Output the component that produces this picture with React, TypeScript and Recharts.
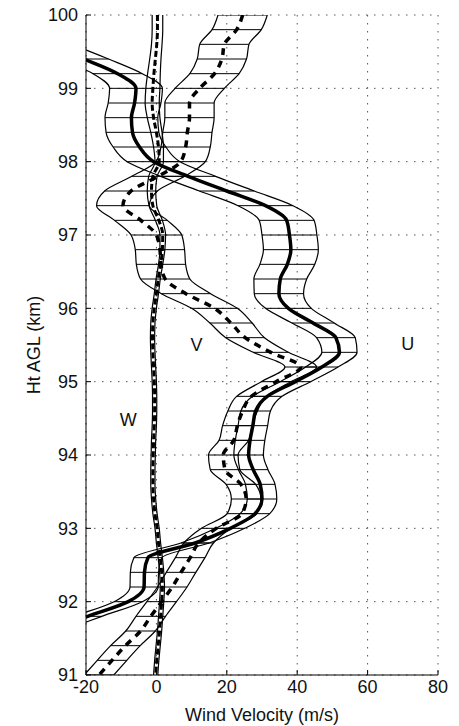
import { CartesianGrid, Label, ReferenceDot, ReferenceLine, Scatter, ScatterChart, XAxis, YAxis } from 'recharts'

// heights (km), top to bottom, every 0.2 km
const heights = [
  100.0, 99.8, 99.6, 99.4, 99.2, 99.0, 98.8, 98.6, 98.4, 98.2, 98.0, 97.8, 97.6, 97.4, 97.2, 97.0,
  96.8, 96.6, 96.4, 96.2, 96.0, 95.8, 95.6, 95.4, 95.2, 95.0, 94.8, 94.6, 94.4, 94.2, 94.0, 93.8,
  93.6, 93.4, 93.2, 93.0, 92.8, 92.6, 92.4, 92.2, 92.0, 91.8, 91.6, 91.4, 91.2, 91.0,
]

const uMean = [
  -51, -41, -31, -20.6, -11, -5.8, -6.2, -7.1, -6.8, -4.8, -0.8, 9, 20, 31, 37, 37.8,
  38.2, 37.2, 35.2, 34.8, 37.5, 44.5, 51, 52, 47, 39.5, 31.5, 28.2, 27.4, 26.6, 26.2, 27.5,
  29.5, 30, 28, 21, 11, -2.4, -3.4, -3.5, -8, -19.5, -31, -43, -55, -67,
]
const uErr = [
  7, 7, 7, 7, 7, 7.5, 7.5, 7.5, 7.5, 7.5, 7.5, 7.8, 7.8, 7.8, 7.8, 7.8,
  7.8, 7.8, 7.5, 7, 6.5, 6, 5.5, 5, 4.6, 4.3, 4.2, 4.2, 4.2, 4.2, 4.2, 4.2,
  4.2, 4.2, 4.2, 4.1, 4, 4, 4, 4, 4, 4, 4, 4, 4, 4,
]

const vMean = [
  24.5, 22.8, 19.3, 18.6, 16.5, 12.3, 9.4, 9.4, 8.8, 8.3, 6.9, 0.5, -7.2, -9.5, -4.4, 0,
  1, 1.3, 2.5, 8.4, 16.5, 21.2, 25.2, 32.5, 41, 34, 27, 24.5, 23, 22, 19, 19.5,
  24, 25.5, 24.3, 17, 12, 9.6, 7, 4.5, 1.5, -1.6, -4.5, -8.8, -12.6, -16.3,
]
const vErr = [
  7, 7, 7, 7, 7, 7, 7, 7, 7, 7, 7, 7.5, 7.5, 7.5, 7.5, 7.2,
  7, 7, 7, 7, 6.5, 6, 5.5, 5, 4.5, 4.2, 4.2, 4.2, 4.2, 4.2, 4.2, 4.2,
  4.2, 4.2, 4.2, 4.2, 4.2, 4.2, 4.2, 4.2, 4.2, 4.2, 4.2, 4.2, 4.2, 4.2,
]

const wMean = [
  0.3, 0.3, 0.1, -0.3, -0.7, -1.0, -1.2, -0.8, 0, 0.6, 0.8, -1.0, -1.4, -1.0, 0.7, 1.8,
  1.7, 1.2, 0.5, 0, -0.6, -1.0, -1.1, -1.0, -0.8, -0.6, -0.5, -0.5, -0.6, -0.8, -0.9, -1.0,
  -1.0, -0.8, -0.4, 0.2, 0.6, 1.1, 1.5, 1.7, 1.5, 1.2, 0.9, 0.5, 0.1, -0.2,
]
const wErr = [
  1.5, 1.5, 1.5, 1.6, 1.8, 2.0, 2.0, 1.8, 1.6, 1.4, 1.2, 1.2, 1.2, 1.1, 1.0, 0.8,
  0.7, 0.6, 0.6, 0.6, 0.6, 0.6, 0.6, 0.6, 0.6, 0.6, 0.6, 0.6, 0.6, 0.6, 0.6, 0.6,
  0.6, 0.6, 0.6, 0.6, 0.6, 0.6, 0.6, 0.6, 0.6, 0.6, 0.6, 0.6, 0.6, 0.6,
]

const xTicks = [-20, 0, 20, 40, 60, 80]
const yTicks = [91, 92, 93, 94, 95, 96, 97, 98, 99, 100]

const profileNames = ['W', 'V', 'U']
const nameX = [-8, 11.4, 71.4]
const nameY = [94.48, 95.5, 95.52]

const FONT = '"Liberation Sans", Arial, Helvetica, sans-serif'
const INK = '#111'

// one edge (side -1 / +1) or the centre (side 0) of a profile
function edge(mean: number[], err: number[], side: number) {
  return heights.map((h, i) => ({ x: mean[i] + side * err[i], y: h }))
}

const noDot = () => <g />

const tickStyle = { fontSize: 18, fill: INK, fontFamily: FONT }

export default function App() {
  const bands = [
    { mean: uMean, err: uErr },
    { mean: vMean, err: vErr },
  ]
  const thinEdges = [
    ...bands.flatMap((b) => [edge(b.mean, b.err, -1), edge(b.mean, b.err, 1)]),
    edge(wMean, wErr, -1),
    edge(wMean, wErr, 1),
  ]
  return (
    <div style={{ position: 'fixed', left: 0, top: 0, fontFamily: FONT, background: '#fff' }}>
      <ScatterChart width={459} height={726} margin={{ top: 15, right: 21, bottom: 11, left: 0 }}>
        <CartesianGrid stroke="#555" strokeDasharray="1.5 6.5" />
        <XAxis
          type="number"
          dataKey="x"
          domain={[-20, 80]}
          ticks={xTicks}
          interval={0}
          allowDataOverflow
          height={40}
          tickSize={-5}
          tickMargin={10}
          stroke="#000"
          tick={tickStyle}
        >
          <Label
            content={({ viewBox }: any) => (
              <text x={viewBox.x + viewBox.width / 2} y={720.5} textAnchor="middle" fontSize={18} fill={INK} fontFamily={FONT}>
                Wind Velocity (m/s)
              </text>
            )}
          />
        </XAxis>
        <XAxis
          xAxisId="top"
          orientation="top"
          type="number"
          dataKey="x"
          domain={[-20, 80]}
          ticks={xTicks}
          interval={0}
          allowDataOverflow
          height={0}
          tickSize={-5}
          stroke="#000"
          tick={noDot}
        />
        <YAxis
          type="number"
          dataKey="y"
          domain={[91, 100]}
          ticks={yTicks}
          interval={0}
          allowDataOverflow
          width={86}
          tickSize={-5}
          tickMargin={13}
          stroke="#000"
          tick={tickStyle}
        >
          <Label
            content={({ viewBox }: any) => {
              const cy = viewBox.y + viewBox.height / 2
              return (
                <text x={40} y={cy} transform={`rotate(-90, 40, ${cy})`} textAnchor="middle" fontSize={18} fill={INK} fontFamily={FONT}>
                  Ht AGL (km)
                </text>
              )
            }}
          />
        </YAxis>
        <YAxis
          yAxisId="right"
          orientation="right"
          type="number"
          dataKey="y"
          domain={[91, 100]}
          ticks={yTicks}
          interval={0}
          allowDataOverflow
          width={0}
          tickSize={-5}
          stroke="#000"
          tick={noDot}
        />

        {/* horizontal hatching of the U and V error bands */}
        {bands.map((b, k) =>
          heights.map((h, i) => (
            <ReferenceLine
              key={`hatch-${k}-${i}`}
              segment={[
                { x: b.mean[i] - b.err[i], y: h },
                { x: b.mean[i] + b.err[i], y: h },
              ]}
              stroke="#000"
              strokeWidth={1}
              ifOverflow="hidden"
            />
          )),
        )}

        {thinEdges.map((pts, k) => (
          <Scatter
            key={`edge-${k}`}
            data={pts}
            line={{ stroke: '#000', strokeWidth: 1.2 }}
            lineJointType="monotoneY"
            shape={noDot}
            fill="none"
            isAnimationActive={false}
          />
        ))}

        <Scatter
          data={edge(uMean, uErr, 0)}
          line={{ stroke: '#000', strokeWidth: 3.5 }}
          lineJointType="monotoneY"
          shape={noDot}
          fill="none"
          isAnimationActive={false}
        />
        <Scatter
          data={edge(vMean, vErr, 0)}
          line={{ stroke: '#000', strokeWidth: 3.5, strokeDasharray: '7 6' }}
          lineJointType="monotoneY"
          shape={noDot}
          fill="none"
          isAnimationActive={false}
        />
        <Scatter
          data={edge(wMean, wErr, 0)}
          line={{ stroke: '#000', strokeWidth: 3, strokeDasharray: '6 3' }}
          lineJointType="monotoneY"
          shape={noDot}
          fill="none"
          isAnimationActive={false}
        />

        {profileNames.map((name, i) => (
          <ReferenceDot
            key={name}
            x={nameX[i]}
            y={nameY[i]}
            r={1}
            fill="none"
            stroke="none"
            label={{ value: name, position: 'center', fontSize: 18, fill: INK, fontFamily: FONT }}
          />
        ))}
      </ScatterChart>
    </div>
  )
}
